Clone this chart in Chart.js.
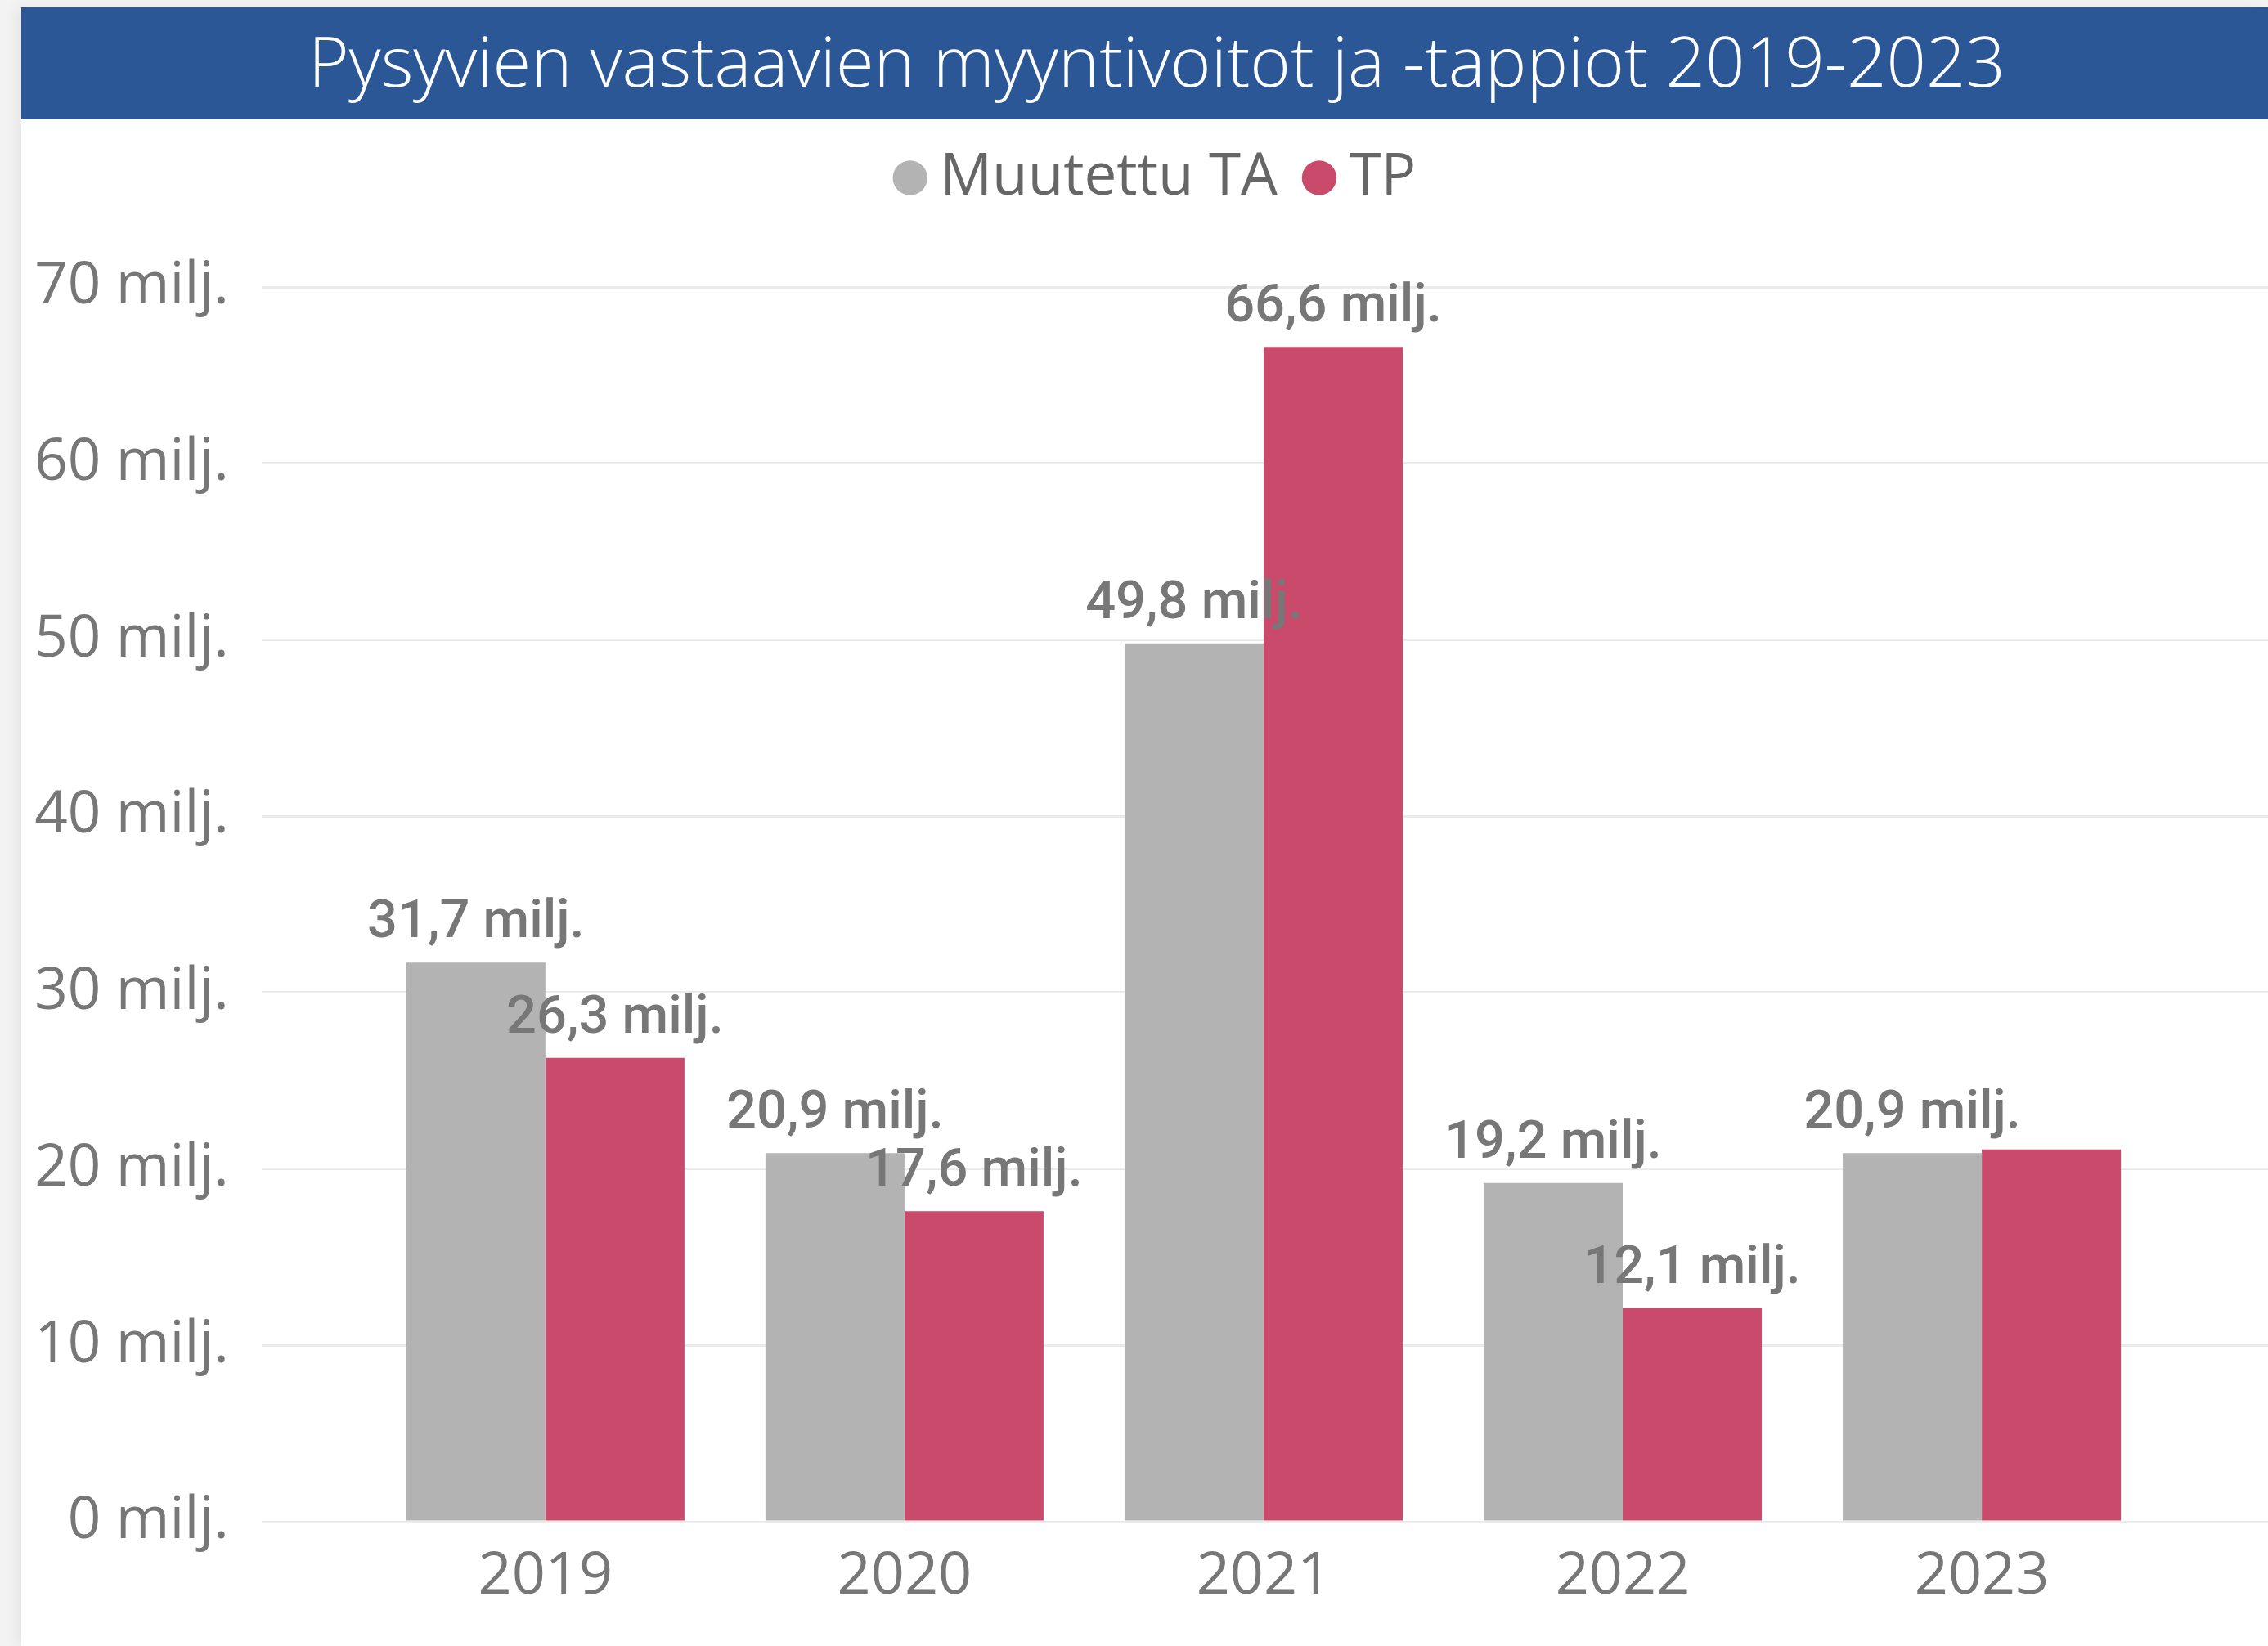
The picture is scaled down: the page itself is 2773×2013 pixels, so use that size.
<!DOCTYPE html>
<html>
<head>
<meta charset="utf-8">
<title>Pysyvien vastaavien myyntivoitot ja -tappiot 2019-2023</title>
<script src="https://cdn.jsdelivr.net/npm/chart.js@4.4.0/dist/chart.umd.min.js"></script>
<style>
    html, body { margin: 0; padding: 0; background: #f3f3f3; }
    body { width: 2773px; height: 2013px; overflow: hidden; position: relative; }
    #card {
        position: absolute; left: 26px; top: 9px; width: 2747px; height: 2004px;
        background: #fff; box-shadow: -8px 0 14px rgba(0, 0, 0, 0.05);
    }
    #title {
        position: absolute; left: 0; top: 0; width: 100%; height: 137px; box-sizing: border-box;
        padding-left: 30px; padding-bottom: 10px; background: #2b5797; color: #fff;
        font-family: 'Open Sans', sans-serif; font-weight: 300; font-size: 85px;
        display: flex; align-items: center; justify-content: center; z-index: 2;
    }
    #chart { position: absolute; left: 0; top: 0; }
</style>
</head>
<body>
<div id="card">
    <div id="title">Pysyvien vastaavien myyntivoitot ja -tappiot 2019-2023</div>
    <canvas id="chart" width="2747" height="2004"></canvas>
</div>
<script>
// Data (millions of euros)
const years = [2019, 2020, 2021, 2022, 2023];
const muutettuTA = [31.7, 20.9, 49.8, 19.2, 20.9];
const tp = [26.3, 17.6, 66.6, 12.1, 21.1];
const seriesNames = ['Muutettu TA', 'TP'];
// which value labels are visible (2023 TP has none in the original)
const taLabelShown = [true, true, true, true, true];
const tpLabelShown = [true, true, true, true, false];
const yTicks = [0, 10, 20, 30, 40, 50, 60, 70];

const GREY_TEXT = '#777777';

const fmt = v => v.toFixed(1).replace('.', ',') + ' milj.';

// push the plot area down below the legend, nudge legend a bit right
const legendGap = {
    id: 'legendGap',
    beforeInit(chart) {
        const fit = chart.legend.fit;
        chart.legend.fit = function () {
            fit.call(this);
            this.height += 88;
        };
    },
    afterLayout(chart) {
        chart.legend.left += 22;
        chart.legend.right += 22;
    }
};

// value labels above the bars
const valueLabels = {
    id: 'valueLabels',
    afterDatasetsDraw(chart) {
        const ctx = chart.ctx;
        const shown = [taLabelShown, tpLabelShown];
        ctx.save();
        ctx.font = '500 65px Roboto';
        ctx.fillStyle = GREY_TEXT;
        ctx.textAlign = 'center';
        ctx.textBaseline = 'alphabetic';
        chart.data.datasets.forEach((ds, i) => {
            chart.getDatasetMeta(i).data.forEach((bar, j) => {
                if (!shown[i][j]) return;
                ctx.fillText(fmt(ds.data[j].y), bar.x, bar.y - 31);
            });
        });
        ctx.restore();
    }
};

const toPoints = vals => years.map((y, i) => ({ x: y, y: vals[i] }));

new Chart(document.getElementById('chart'), {
    type: 'bar',
    data: {
        datasets: [
            {
                label: seriesNames[0],
                data: toPoints(muutettuTA),
                backgroundColor: '#b3b3b3'
            },
            {
                label: seriesNames[1],
                data: toPoints(tp),
                backgroundColor: '#c94a6b'
            }
        ]
    },
    options: {
        responsive: false,
        animation: false,
        events: [],
        datasets: {
            bar: { categoryPercentage: 0.7745, barPercentage: 1.0 }
        },
        layout: { padding: { top: 123, left: 0, right: 0, bottom: 0 } },
        plugins: {
            title: { display: false },
            tooltip: { enabled: false },
            legend: {
                position: 'top',
                align: 'center',
                labels: {
                    usePointStyle: true,
                    pointStyle: 'circle',
                    boxWidth: 2,
                    boxHeight: 30,
                    padding: 50,
                    color: '#666666',
                    font: { family: 'Open Sans', size: 71 }
                }
            }
        },
        scales: {
            x: {
                type: 'linear',
                offset: false,
                min: 2018.21,
                max: 2023.797,
                afterFit: s => { s.height = 152; },
                grid: { display: false, drawTicks: false, offset: false },
                border: { display: false },
                ticks: {
                    stepSize: 1,
                    includeBounds: false,
                    padding: 24,
                    color: GREY_TEXT,
                    font: { family: 'Open Sans', size: 72 },
                    callback: v => years.includes(v) ? String(v) : ''
                }
            },
            y: {
                min: yTicks[0],
                max: yTicks[yTicks.length - 1],
                afterFit: s => { s.width = 294; },
                grid: { color: '#ebebeb', lineWidth: 3, drawTicks: false },
                border: { display: false },
                ticks: {
                    stepSize: 10,
                    padding: 40,
                    color: GREY_TEXT,
                    font: { family: 'Open Sans', size: 71 },
                    callback: v => v + ' milj.'
                }
            }
        }
    },
    plugins: [legendGap, valueLabels]
});
</script>
</body>
</html>
